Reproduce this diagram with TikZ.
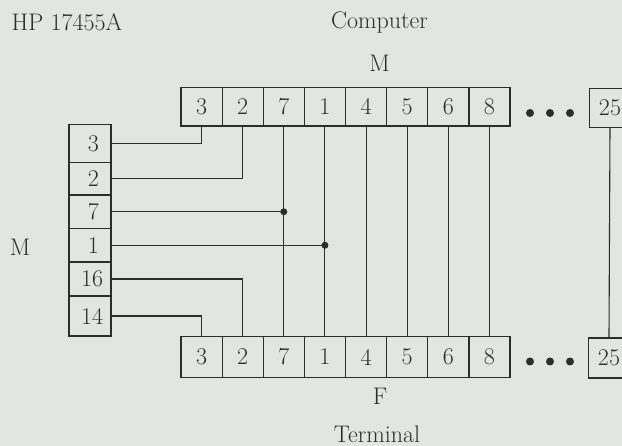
\documentclass[tikz,border=0pt]{standalone}
\definecolor{bg}{RGB}{226,229,225}
\definecolor{ink}{RGB}{45,45,45}
\begin{document}
\begin{tikzpicture}[x=1pt,y=-1pt,
  every node/.style={font=\fontsize{24}{26}\selectfont, text=ink},
  cell/.style={draw=ink, line width=1.25pt, minimum width=41.125pt, inner sep=0pt, anchor=center},
  topcell/.style={cell, minimum height=38.5pt},
  botcell/.style={cell, minimum height=41pt},
  lcell/.style={draw=ink, line width=1.25pt, inner xsep=12pt, inner ysep=0pt, text width=18pt, align=right, anchor=center},
  wire/.style={draw=ink, line width=1.1pt},
  joint/.style={circle, fill=ink, inner sep=0pt, minimum size=7pt},
  edot/.style={fill=ink}
]
\useasboundingbox (0,0) rectangle (622,446);
\fill[bg] (0,0) rectangle (622,446);
\begin{scope}
\clip (0,0) rectangle (622,446);

% labels
\node (hp) at (67,22) {HP 17455A};
\node (comp) at (379.5,22) {Computer};
\node (mtop) at (379.5,63) {M};
\node (mleft) at (20,247) {M};
\node (fbot) at (380,396) {F};
\node (term) at (377,434) {Terminal};

% top row (Computer M)
\foreach \v [count=\i from 0] in {3,2,7,1,4,5,6,8} {
  \node[topcell] (t\i) at ({181+41.125*(\i+0.5)},106.75) {\v};
}
\node[topcell] (t25) at (610,108) {25};

% bottom row (Terminal F)
\foreach \v [count=\i from 0] in {3,2,7,1,4,5,6,8} {
  \node[botcell] (b\i) at ({181+41.125*(\i+0.5)},357) {\v};
}
\node[botcell, minimum height=40pt] (b25) at (609,358) {25};

% left column (M)
\node[lcell, minimum height=38pt]   (l3)  at (90,143.5)  {3};
\node[lcell, minimum height=32.5pt] (l2)  at (90,178.75) {2};
\node[lcell, minimum height=33.5pt] (l7)  at (90,211.75) {7};
\node[lcell, minimum height=33.5pt] (l1)  at (90,245.25) {1};
\node[lcell, minimum height=34pt]   (l16) at (90,279)    {16};
\node[lcell, minimum height=40pt]   (l14) at (90,316)    {14};

% ellipsis dots
\foreach \x in {530,550,570} {
  \fill[edot] (\x,113) circle (4pt);
  \fill[edot] (\x,361.5) circle (4pt);
}

% wires from the left column
\draw[wire] (l3.east) -| (t0.south);
\draw[wire] (l2.east) -| (t1.south);
\draw[wire] (l16.east) -| (b1.north);
\draw[wire] (l14.east) -| (b0.north);

% straight-through wires
\draw[wire] (t2.south) -- (b2.north);
\draw[wire] (t3.south) -- (b3.north);
\draw[wire] (t4.south) -- (b4.north);
\draw[wire] (t5.south) -- (b5.north);
\draw[wire] (t6.south) -- (b6.north);
\draw[wire] (t7.south) -- (b7.north);
\draw[wire] (t25.south) -- (b25.north);

% joined wires with dots
\coordinate (j7) at (t2.south |- l7.east);
\coordinate (j1) at (t3.south |- l1.east);
\draw[wire] (l7.east) -- (j7);
\draw[wire] (l1.east) -- (j1);
\node[joint] (d7) at (j7) {};
\node[joint] (d1) at (j1) {};
\end{scope}
\end{tikzpicture}
\end{document}
